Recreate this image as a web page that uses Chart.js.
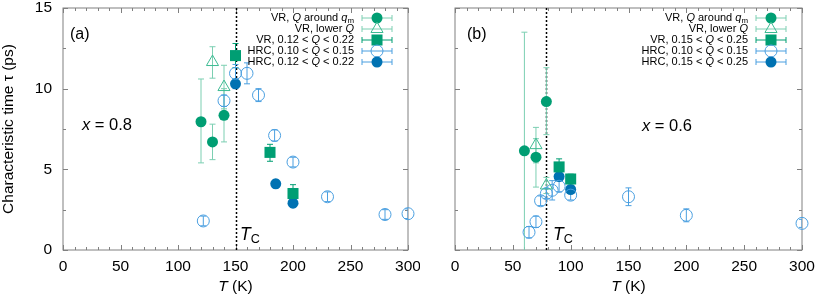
<!DOCTYPE html>
<html>
<head>
<meta charset="utf-8">
<script src="https://cdn.jsdelivr.net/npm/chart.js@4"></script>
<style>
  body { margin: 0; background: #fff; }
  #wrapA { position: absolute; left: 0; top: 0; width: 420px; height: 299px; }
  #wrapB { position: absolute; left: 420px; top: 0; width: 397px; height: 299px; }
</style>
</head>
<body>
<div id="wrapA"><canvas id="chartA"></canvas></div>
<div id="wrapB"><canvas id="chartB"></canvas></div>
<script>
const FONT = "'Liberation Sans', Arial, sans-serif";

const xTicks = [0, 50, 100, 150, 200, 250, 300];
const yTicks = [0, 5, 10, 15];

// panel (a), x = 0.8
const aTc = 150;
const aVrQmT = [120, 130, 140];
const aVrQmTau = [7.95, 6.7, 8.35];
const aVrQmLo = [5.4, 5.6, 6.7];
const aVrQmHi = [10.6, 7.8, 10.0];

const aVrLowT = [130, 140];
const aVrLowTau = [11.65, 10.1];
const aVrLowLo = [10.65, 8.75];
const aVrLowHi = [12.6, 11.45];

const aVrSqT = [150, 180, 200];
const aVrSqTau = [12.05, 6.05, 3.5];
const aVrSqLo = [11.3, 5.5, 2.95];
const aVrSqHi = [12.8, 6.55, 4.05];

const aHrcOpenT = [122, 140, 150, 160, 170, 184, 200, 230, 280, 300];
const aHrcOpenTau = [1.8, 9.25, 10.95, 10.95, 9.6, 7.1, 5.45, 3.3, 2.2, 2.25];
const aHrcOpenLo = [1.5, 8.9, 10.4, 10.3, 9.2, 6.75, 5.15, 3.0, 1.9, 1.95];
const aHrcOpenHi = [2.1, 9.6, 11.5, 11.6, 10.0, 7.45, 5.75, 3.6, 2.5, 2.55];

const aHrcFillT = [150, 185, 200];
const aHrcFillTau = [10.3, 4.1, 2.9];
const aHrcFillLo = [10.0, 3.85, 2.65];
const aHrcFillHi = [10.6, 4.35, 3.15];

// panel (b), x = 0.6
const bTc = 79;
const bVrQmT = [60, 70, 79];
const bVrQmTau = [6.15, 5.75, 9.2];
const bVrQmLo = [-1.2, 3.9, 7.15];
const bVrQmHi = [13.5, 6.9, 11.3];

const bVrLowT = [70, 79];
const bVrLowTau = [6.5, 4.0];
const bVrLowLo = [5.4, 3.5];
const bVrLowHi = [7.6, 4.5];

const bVrSqT = [90, 100];
const bVrSqTau = [5.15, 4.4];
const bVrSqLo = [4.7, 4.1];
const bVrSqHi = [5.65, 4.7];

const bHrcOpenT = [64, 70, 74, 79, 84, 90, 100, 150, 200, 300];
const bHrcOpenTau = [1.1, 1.75, 3.05, 3.5, 3.7, 3.95, 3.4, 3.3, 2.15, 1.65];
const bHrcOpenLo = [0.75, 1.4, 2.75, 3.2, 3.1, 3.6, 3.1, 2.75, 1.75, 1.4];
const bHrcOpenHi = [1.45, 2.1, 3.35, 3.8, 4.3, 4.3, 3.7, 3.85, 2.55, 1.9];

const bHrcFillT = [90, 100];
const bHrcFillTau = [4.55, 3.75];
const bHrcFillLo = [4.35, 3.55];
const bHrcFillHi = [4.75, 3.95];

const GREEN = '#009e73';
const GREEN_LIGHT = '#3dbb93';
const GREEN_BAR = '#7ccfb2';
const BLUE = '#0072b2';
const BLUE_LIGHT = '#4a9fe0';

function series(parts, T, tau, lo, hi, style) {
  return Object.assign({
    legendParts: parts,
    data: T.map((t, i) => ({ x: t, y: tau[i] })),
    errLo: lo,
    errHi: hi,
    clip: false
  }, style);
}

const styleQm = { pointStyle: 'circle', pointRadius: 5.5, pointBackgroundColor: GREEN, pointBorderColor: GREEN, pointBorderWidth: 0, errColor: GREEN_BAR };
const styleLow = { pointStyle: 'triangle', pointRadius: 7, pointBackgroundColor: 'rgba(0,0,0,0)', pointBorderColor: GREEN_LIGHT, pointBorderWidth: 1, errColor: GREEN_BAR };
const styleSq = { pointStyle: 'rect', pointRadius: 7.8, pointBackgroundColor: GREEN, pointBorderColor: GREEN, pointBorderWidth: 0, errColor: GREEN };
const styleOpen = { pointStyle: 'circle', pointRadius: 6, pointBackgroundColor: 'rgba(0,0,0,0)', pointBorderColor: BLUE_LIGHT, pointBorderWidth: 1, errColor: BLUE_LIGHT };
const styleFill = { pointStyle: 'circle', pointRadius: 5.5, pointBackgroundColor: BLUE, pointBorderColor: BLUE, pointBorderWidth: 0, errColor: BLUE_LIGHT };

const lblQm = [['VR, '], ['Q', 'i'], [' around '], ['q', 'i'], ['m', 'sub']];
const lblLow = [['VR, lower '], ['Q', 'i']];
function lblRange(kind, a, b) { return [[kind + ', ' + a + ' < '], ['Q', 'i'], [' < ' + b]]; }

const dataA = [
  series(lblQm, aVrQmT, aVrQmTau, aVrQmLo, aVrQmHi, styleQm),
  series(lblLow, aVrLowT, aVrLowTau, aVrLowLo, aVrLowHi, styleLow),
  series(lblRange('VR', '0.12', '0.22'), aVrSqT, aVrSqTau, aVrSqLo, aVrSqHi, styleSq),
  series(lblRange('HRC', '0.10', '0.15'), aHrcOpenT, aHrcOpenTau, aHrcOpenLo, aHrcOpenHi, styleOpen),
  series(lblRange('HRC', '0.12', '0.22'), aHrcFillT, aHrcFillTau, aHrcFillLo, aHrcFillHi, styleFill)
];
const dataB = [
  series(lblQm, bVrQmT, bVrQmTau, bVrQmLo, bVrQmHi, styleQm),
  series(lblLow, bVrLowT, bVrLowTau, bVrLowLo, bVrLowHi, styleLow),
  series(lblRange('VR', '0.15', '0.25'), bVrSqT, bVrSqTau, bVrSqLo, bVrSqHi, styleSq),
  series(lblRange('HRC', '0.10', '0.15'), bHrcOpenT, bHrcOpenTau, bHrcOpenLo, bHrcOpenHi, styleOpen),
  series(lblRange('HRC', '0.15', '0.25'), bHrcFillT, bHrcFillTau, bHrcFillLo, bHrcFillHi, styleFill)
];

// rich text: parts are [text, style] with style '', 'i' (italic) or 'sub'
function partFont(style, size) {
  if (style === 'i') return 'italic ' + size + 'px ' + FONT;
  if (style === 'sub') return (size * 0.72) + 'px ' + FONT;
  return size + 'px ' + FONT;
}
function richWidth(ctx, parts, size) {
  let w = 0;
  parts.forEach(p => { ctx.font = partFont(p[1], size); w += ctx.measureText(p[0]).width; });
  return w;
}
function drawRich(ctx, parts, x, y, size, align) {
  let cx = align === 'right' ? x - richWidth(ctx, parts, size) : align === 'center' ? x - richWidth(ctx, parts, size) / 2 : x;
  ctx.textBaseline = 'middle';
  ctx.textAlign = 'left';
  parts.forEach(p => {
    ctx.font = partFont(p[1], size);
    ctx.fillText(p[0], cx, p[1] === 'sub' ? y + size * 0.3 : y);
    cx += ctx.measureText(p[0]).width;
  });
}

function errBar(ctx, px, y1, y2, cap) {
  ctx.beginPath();
  ctx.moveTo(px, y1); ctx.lineTo(px, y2);
  ctx.moveTo(px - cap, y1); ctx.lineTo(px + cap, y1);
  ctx.moveTo(px - cap, y2); ctx.lineTo(px + cap, y2);
  ctx.stroke();
}

const panelPlugin = {
  id: 'panel',
  beforeDatasetsDraw(chart, args, opts) {
    const { ctx, chartArea: a, scales: { x, y } } = chart;
    ctx.save();
    // frame
    ctx.strokeStyle = '#808080';
    ctx.lineWidth = 1;
    ctx.strokeRect(a.left, a.top, a.width, a.height);
    // inward ticks
    ctx.beginPath();
    for (let v = 0; v <= 300; v += 10) {
      const len = v % 50 === 0 ? 5 : 3;
      const px = Math.round(x.getPixelForValue(v)) + 0.5;
      ctx.moveTo(px, a.bottom); ctx.lineTo(px, a.bottom - len);
      ctx.moveTo(px, a.top); ctx.lineTo(px, a.top + len);
    }
    for (let v = 0; v <= 15; v += 2.5) {
      const len = v % 5 === 0 ? 5 : 3;
      const py = Math.round(y.getPixelForValue(v)) + 0.5;
      ctx.moveTo(a.left, py); ctx.lineTo(a.left + len, py);
      ctx.moveTo(a.right, py); ctx.lineTo(a.right - len, py);
    }
    ctx.stroke();
    ctx.restore();

    ctx.save();
    ctx.beginPath();
    ctx.rect(a.left, a.top, a.width, a.height);
    ctx.clip();
    // Tc line
    const tx = Math.round(x.getPixelForValue(opts.tc)) + 0.5;
    ctx.strokeStyle = '#000';
    ctx.lineWidth = 1.5;
    ctx.setLineDash([2, 2]);
    ctx.beginPath();
    ctx.moveTo(tx, a.top); ctx.lineTo(tx, a.bottom);
    ctx.stroke();
    ctx.setLineDash([]);
    // error bars
    ctx.lineWidth = 1;
    chart.data.datasets.forEach(ds => {
      ctx.strokeStyle = ds.errColor;
      ds.data.forEach((p, i) => {
        const px = x.getPixelForValue(p.x);
        errBar(ctx, px, y.getPixelForValue(ds.errLo[i]), y.getPixelForValue(ds.errHi[i]), 3);
      });
    });
    ctx.restore();
  },
  afterDraw(chart, args, opts) {
    const { ctx, chartArea: a, scales: { x, y } } = chart;
    ctx.save();
    ctx.fillStyle = '#000';
    // axis titles
    drawRich(ctx, [['T', 'i'], [' (K)']], (a.left + a.right) / 2, 287, 15.5, 'center');
    if (opts.yTitle) {
      ctx.save();
      ctx.translate(9, (a.top + a.bottom) / 2);
      ctx.rotate(-Math.PI / 2);
      drawRich(ctx, [['Characteristic time \u03c4 (ps)']], 0, 0, 15.5, 'center');
      ctx.restore();
    }
    // annotations
    drawRich(ctx, [[opts.tag]], x.getPixelForValue(opts.tagAt[0]), y.getPixelForValue(opts.tagAt[1]), 16, 'left');
    drawRich(ctx, [['x', 'i'], [' = ' + opts.conc]], x.getPixelForValue(opts.concAt[0]), y.getPixelForValue(opts.concAt[1]), 16.5, 'left');
    drawRich(ctx, [['T', 'i'], ['C', 'sub']], x.getPixelForValue(opts.tcLabelAt[0]), y.getPixelForValue(opts.tcLabelAt[1]), 17.5, 'left');
    // legend
    chart.data.datasets.forEach((ds, i) => {
      const ry = a.top + 10 + 11 * i;
      ctx.fillStyle = '#000';
      drawRich(ctx, ds.legendParts, a.right - 54, ry, 11, 'right');
      const cx = a.right - 31;
      ctx.strokeStyle = ds.errColor;
      ctx.lineWidth = 1;
      ctx.beginPath();
      ctx.moveTo(cx - 15, ry); ctx.lineTo(cx + 15, ry);
      ctx.moveTo(cx - 15, ry - 3); ctx.lineTo(cx - 15, ry + 3);
      ctx.moveTo(cx + 15, ry - 3); ctx.lineTo(cx + 15, ry + 3);
      ctx.stroke();
      ctx.fillStyle = ds.pointBackgroundColor;
      ctx.strokeStyle = ds.pointBorderColor;
      ctx.lineWidth = ds.pointBorderWidth;
      Chart.helpers.drawPoint(ctx, { pointStyle: ds.pointStyle, radius: ds.pointRadius, rotation: 0, borderWidth: ds.pointBorderWidth }, cx, ry);
    });
    ctx.restore();
  }
};

function noLabelPadding(s) {
  s.paddingLeft = 0; s.paddingRight = 0; s.paddingTop = 0; s.paddingBottom = 0;
}

function makeChart(id, datasets, cfg) {
  return new Chart(document.getElementById(id), {
    type: 'scatter',
    data: { datasets },
    options: {
      responsive: true,
      maintainAspectRatio: false,
      animation: false,
      events: [],
      layout: { padding: { top: 5, right: cfg.padRight, left: 0, bottom: 0 } },
      plugins: { legend: { display: false }, tooltip: { enabled: false }, panel: cfg },
      scales: {
        x: {
          type: 'linear', min: 0, max: 300,
          afterBuildTicks: s => { s.ticks = xTicks.map(v => ({ value: v })); },
          grid: { display: false, drawTicks: false },
          border: { display: false },
          ticks: { font: { family: FONT, size: 15.5 }, color: '#000', padding: 7, maxRotation: 0, autoSkip: false },
          afterFit: s => { s.height = 49; noLabelPadding(s); }
        },
        y: {
          type: 'linear', min: 0, max: 15,
          afterBuildTicks: s => { s.ticks = yTicks.map(v => ({ value: v })); },
          grid: { display: false, drawTicks: false },
          border: { display: false },
          ticks: { display: cfg.yTitle, font: { family: FONT, size: 15.5 }, color: '#000', padding: 11 },
          afterFit: s => { s.width = cfg.yWidth; noLabelPadding(s); }
        }
      }
    },
    plugins: [panelPlugin]
  });
}

makeChart('chartA', dataA, {
  padRight: 12, yWidth: 63, yTitle: true, tc: aTc,
  tag: '(a)', tagAt: [6, 13.35],
  conc: '0.8', concAt: [16.5, 7.7],
  tcLabelAt: [154, 0.95]
});
makeChart('chartB', dataB, {
  padRight: 15, yWidth: 35, yTitle: false, tc: bTc,
  tag: '(b)', tagAt: [10.4, 13.35],
  conc: '0.6', concAt: [161.6, 7.65],
  tcLabelAt: [84.7, 0.95]
});
</script>
</body>
</html>
